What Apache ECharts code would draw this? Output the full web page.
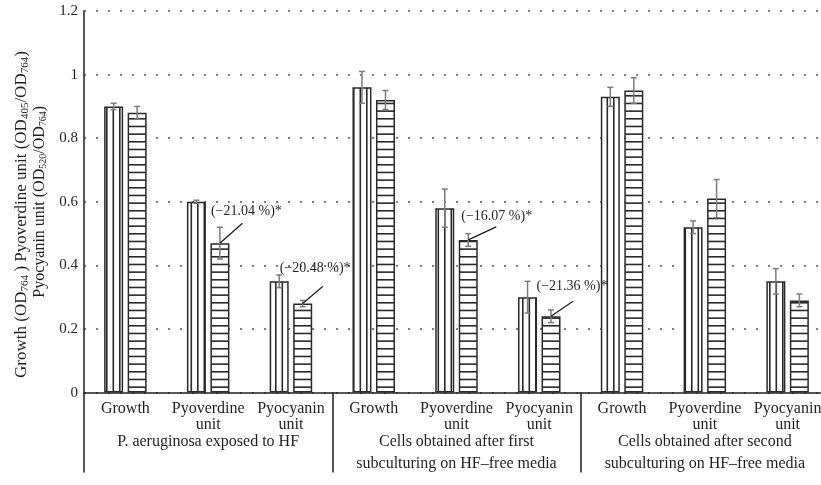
<!DOCTYPE html>
<html>
<head>
<meta charset="utf-8">
<script src="https://cdn.jsdelivr.net/npm/echarts@6/dist/echarts.min.js"></script>
<style>
html,body{margin:0;padding:0;background:#fff;overflow:hidden;width:821px;height:485px;}
#chart{width:829px;height:485px;}
</style>
</head>
<body>
<div id="chart"></div>
<script>
// ---------- data ----------
const categories = ['Growth', 'Pyoverdine\nunit', 'Pyocyanin\nunit',
                    'Growth', 'Pyoverdine\nunit', 'Pyocyanin\nunit',
                    'Growth', 'Pyoverdine\nunit', 'Pyocyanin\nunit'];
const groups = ['P. aeruginosa exposed to HF',
                'Cells obtained after first\nsubculturing on HF\u2013free media',
                'Cells obtained after second\nsubculturing on HF\u2013free media'];
const controlValues = [0.90, 0.60, 0.35, 0.96, 0.58, 0.30, 0.93, 0.52, 0.35];
const controlErrors = [0.01, 0.005, 0.02, 0.05, 0.06, 0.05, 0.03, 0.02, 0.04];
const treatedValues = [0.88, 0.47, 0.28, 0.92, 0.48, 0.24, 0.95, 0.61, 0.29];
const treatedErrors = [0.02, 0.05, 0.01, 0.03, 0.02, 0.02, 0.04, 0.06, 0.02];
const annotationCategories = [1, 2, 4, 5];
const annotationTexts = ['(\u221221.04 %)*', '(\u221220.48 %)*', '(\u221216.07 %)*', '(\u221221.36 %)*'];
const yTicks = { min: 0, max: 1.2, interval: 0.2 };
const yAxisName = '{a|Growth (OD}{sa|764}{a|\u2009) Pyoverdine unit (OD}{sa|405}{a|/OD}{sa|764}{a|)      }\n' +
                  'Pyocyanin unit (OD{s|520}/OD{s|764})';

// ---------- styling / layout ----------
const FONT = '"Liberation Serif", "Times New Roman", serif';
const TEXT = '#231f20';
const BAR_W = 19;
const BAR_GAP = 4.5;
const BAR_OFF = (BAR_W + BAR_GAP) / 2;
// pixel offsets for annotation leader lines / texts (relative to bar top)
const annotationLayout = [
  { lx: 22.5, ly: -20, tx: -9, ty: -32 },
  { lx: 20, ly: -17, tx: -23, ty: -35.5 },
  { lx: 28, ly: -13, tx: -7, ty: -23.5 },
  { lx: 22, ly: -15, tx: -14.5, ty: -29.5 }
];

function makePattern(vertical) {
  const c = document.createElement('canvas');
  if (vertical) {
    c.width = 13; c.height = 4;
    const g = c.getContext('2d');
    g.fillStyle = '#fff'; g.fillRect(0, 0, 13, 4);
    g.fillStyle = '#2a2a2a';
    g.fillRect(2, 0, 1.6, 4); g.fillRect(8.5, 0, 1.6, 4);
  } else {
    c.width = 4; c.height = 23;
    const g = c.getContext('2d');
    g.fillStyle = '#fff'; g.fillRect(0, 0, 4, 23);
    g.fillStyle = '#2a2a2a';
    g.fillRect(0, 3, 4, 1.6); g.fillRect(0, 10.67, 4, 1.6); g.fillRect(0, 18.33, 4, 1.6);
  }
  return { image: c, repeat: 'repeat' };
}

function errorSeries(values, errors, offset) {
  return {
    type: 'custom',
    xAxisIndex: 0, yAxisIndex: 0,
    z: 5, silent: true,
    clip: false,
    data: values.map((v, i) => [i, v, errors[i]]),
    encode: { x: 0, y: 1 },
    renderItem: function (params, api) {
      const i = api.value(0), v = api.value(1), e = api.value(2);
      const top = api.coord([i, v + e]);
      const bot = api.coord([i, v - e]);
      const x = top[0] + offset;
      const st = { stroke: '#7d7d7d', lineWidth: 1.5 };
      return {
        type: 'group',
        children: [
          { type: 'line', shape: { x1: x, y1: top[1], x2: x, y2: bot[1] }, style: st },
          { type: 'line', shape: { x1: x - 3, y1: top[1], x2: x + 3, y2: top[1] }, style: st },
          { type: 'line', shape: { x1: x - 3, y1: bot[1], x2: x + 3, y2: bot[1] }, style: st }
        ]
      };
    }
  };
}

const annotationSeries = {
  type: 'custom',
  xAxisIndex: 0, yAxisIndex: 0,
  z: 6, silent: true, clip: false,
  data: annotationCategories.map((c, k) => [c, treatedValues[c], k]),
  encode: { x: 0, y: 1 },
  renderItem: function (params, api) {
    const c = api.value(0), v = api.value(1), k = api.value(2);
    const p = api.coord([c, v]);
    const sx = p[0] + BAR_OFF, sy = p[1];
    const L = annotationLayout[k];
    return {
      type: 'group',
      children: [
        { type: 'line', shape: { x1: sx, y1: sy, x2: sx + L.lx, y2: sy + L.ly },
          style: { stroke: '#231f20', lineWidth: 1.3 } },
        { type: 'text', x: sx + L.tx, y: sy + L.ty,
          style: { text: annotationTexts[k], font: '14px ' + FONT, fill: TEXT,
                   align: 'left', verticalAlign: 'middle' } }
      ]
    };
  }
};

const chart = echarts.init(document.getElementById('chart'), null, { renderer: 'canvas', width: 829, height: 485 });
chart.setOption({
  animation: false,
  backgroundColor: '#fff',
  textStyle: { fontFamily: FONT, color: TEXT },
  grid: { left: 84, top: 11, right: 0, bottom: 92.4 },
  xAxis: [
    {
      type: 'category',
      data: categories,
      position: 'bottom',
      axisLine: { show: true, lineStyle: { color: '#231f20', width: 1.5 } },
      axisTick: { show: false },
      axisLabel: { interval: 0, fontSize: 16, lineHeight: 16, margin: 8, color: TEXT, fontFamily: FONT },
      splitLine: { show: false }
    },
    {
      type: 'category',
      data: groups,
      position: 'bottom',
      axisLine: { show: false },
      axisTick: { show: true, length: 80, interval: 0, lineStyle: { color: '#231f20', width: 1.5 } },
      axisLabel: { interval: 0, fontSize: 16, lineHeight: 22, margin: 38, color: TEXT, fontFamily: FONT },
      splitLine: { show: false }
    }
  ],
  yAxis: {
    type: 'value',
    min: yTicks.min, max: yTicks.max, interval: yTicks.interval,
    axisLine: { show: true, lineStyle: { color: '#231f20', width: 1.5 } },
    axisTick: { show: false },
    axisLabel: { fontSize: 15, margin: 6, color: TEXT, fontFamily: FONT },
    splitLine: { show: true, lineStyle: { color: '#555', width: 1.6, type: [2, 10] } },
    name: yAxisName,
    nameLocation: 'middle',
    nameRotate: 90,
    nameGap: 34,
    nameTextStyle: {
      fontSize: 16, lineHeight: 18, color: TEXT, fontFamily: FONT,
      rich: {
        a: { fontSize: 17, lineHeight: 18, color: TEXT, fontFamily: FONT },
        sa: { fontSize: 11, lineHeight: 18, verticalAlign: 'bottom', color: TEXT, fontFamily: FONT },
        s: { fontSize: 10, lineHeight: 18, verticalAlign: 'bottom', color: TEXT, fontFamily: FONT }
      }
    }
  },
  series: [
    {
      type: 'bar', xAxisIndex: 0, yAxisIndex: 0,
      data: controlValues,
      barWidth: BAR_W, barGap: (BAR_GAP / BAR_W * 100) + '%',
      itemStyle: { color: makePattern(true), borderColor: '#2a2a2a', borderWidth: 1.5 }
    },
    {
      type: 'bar', xAxisIndex: 0, yAxisIndex: 0,
      data: treatedValues,
      barWidth: BAR_W,
      itemStyle: { color: makePattern(false), borderColor: '#2a2a2a', borderWidth: 1.5 }
    },
    errorSeries(controlValues, controlErrors, -BAR_OFF),
    errorSeries(treatedValues, treatedErrors, BAR_OFF),
    annotationSeries
  ]
});
</script>
</body>
</html>
